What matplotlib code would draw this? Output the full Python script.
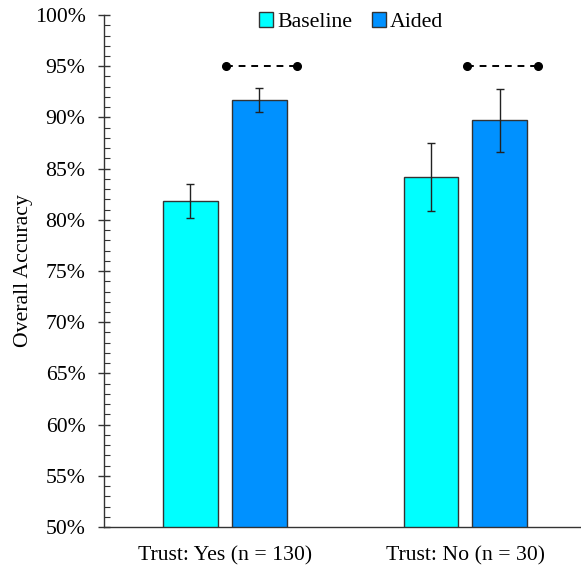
import matplotlib
matplotlib.use("Agg")
import matplotlib.pyplot as plt
import numpy as np
from matplotlib.ticker import MultipleLocator, FuncFormatter
from matplotlib.patches import Patch

plt.rcParams['font.family'] = ['Liberation Serif', 'DejaVu Serif']

groups = ["Trust: Yes (n = 130)", "Trust: No (n = 30)"]
series = ["Baseline", "Aided"]
baseline = [81.8, 84.2]
baseline_err = [1.65, 3.3]
aided = [91.7, 89.7]
aided_err = [1.15, 3.1]
sig_level = 95.0
colors = ["#00FFFF", "#0091FF"]

fs = 15.7
fig = plt.figure(figsize=(5.81, 5.67), dpi=100)
ax = fig.add_axes([0.1795, 0.0705, 0.8205, 0.903])

x = np.arange(len(groups))
w = 0.228
off = 0.143
ax.bar(x - off, baseline, width=w, bottom=0, color=colors[0], edgecolor="#333333", linewidth=1.0, zorder=2)
ax.bar(x + off, aided, width=w, bottom=0, color=colors[1], edgecolor="#333333", linewidth=1.0, zorder=2)
ax.errorbar(x - off, baseline, yerr=baseline_err, fmt='none', ecolor="#222222", elinewidth=1.0, capsize=2.7, capthick=1.0, zorder=3)
ax.errorbar(x + off, aided, yerr=aided_err, fmt='none', ecolor="#222222", elinewidth=1.0, capsize=2.7, capthick=1.0, zorder=3)

for xi in x:
    ax.plot([xi + 0.005, xi + 0.30], [sig_level, sig_level], color='black', linestyle=(0, (3.5, 3)),
            linewidth=1.4, marker='o', markersize=5.5, zorder=4)

ax.set_ylim(50, 100)
ax.set_xlim(-0.5, 1.48)
ax.yaxis.set_major_locator(MultipleLocator(5))
ax.yaxis.set_minor_locator(MultipleLocator(1))
ax.yaxis.set_major_formatter(FuncFormatter(lambda v, p: f"{int(round(v))}%"))
ax.tick_params(axis='y', which='major', direction='inout', length=9, width=1, labelsize=fs, pad=9, color='#333333')
ax.tick_params(axis='y', which='minor', direction='in', length=4, width=0.8, color='#333333')
ax.set_xticks(x)
ax.set_xticklabels(groups)
ax.tick_params(axis='x', which='both', length=0, labelsize=fs, pad=14)

for s in ['top', 'right']:
    ax.spines[s].set_visible(False)
ax.spines['left'].set_color('#333333')
ax.spines['bottom'].set_color('#333333')
ax.spines['left'].set_linewidth(1.0)
ax.spines['bottom'].set_linewidth(1.0)

ax.set_ylabel("Overall Accuracy", fontsize=fs, labelpad=1)

handles = [Patch(facecolor=colors[0], edgecolor='#333333', linewidth=1.0),
           Patch(facecolor=colors[1], edgecolor='#333333', linewidth=1.0)]
fig.legend(handles, series, loc='upper center', bbox_to_anchor=(351/581, 1.0 + 1/567), ncol=2, frameon=False,
           fontsize=fs, handlelength=0.65, handleheight=0.65, handletextpad=0.2, columnspacing=0.9, borderaxespad=0.2)

fig.savefig("out.png", dpi=100)
